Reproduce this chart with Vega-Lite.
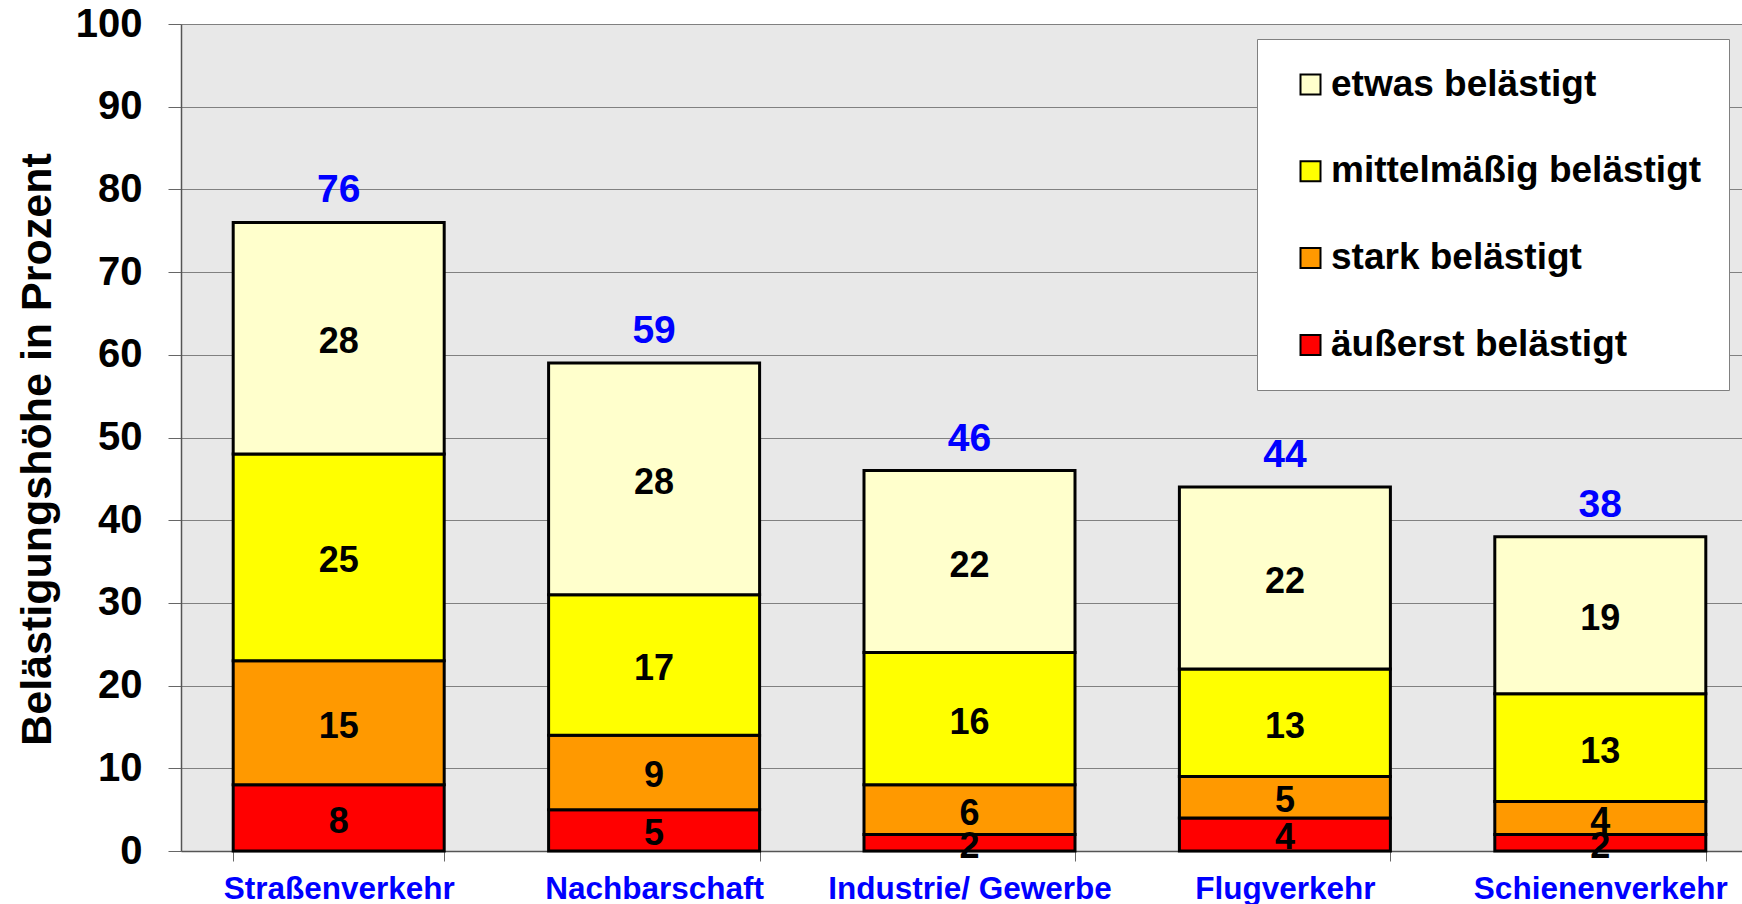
{
  "$schema": "https://vega.github.io/schema/vega-lite/v6.json",
  "autosize": {"type": "none"},
  "padding": {"left": 181, "top": 24, "right": 0, "bottom": 53},
  "width": 1561,
  "height": 827,
  "background": "white",
  "config": {
    "view": {"fill": "#e8e8e8", "stroke": null},
    "font": "Liberation Sans"
  },
  "datasets": {
    "segments": [
      {"Quelle": "Straßenverkehr", "Stufe": "äußerst belästigt", "Prozent": 8},
      {"Quelle": "Straßenverkehr", "Stufe": "stark belästigt", "Prozent": 15},
      {"Quelle": "Straßenverkehr", "Stufe": "mittelmäßig belästigt", "Prozent": 25},
      {"Quelle": "Straßenverkehr", "Stufe": "etwas belästigt", "Prozent": 28},
      {"Quelle": "Nachbarschaft", "Stufe": "äußerst belästigt", "Prozent": 5},
      {"Quelle": "Nachbarschaft", "Stufe": "stark belästigt", "Prozent": 9},
      {"Quelle": "Nachbarschaft", "Stufe": "mittelmäßig belästigt", "Prozent": 17},
      {"Quelle": "Nachbarschaft", "Stufe": "etwas belästigt", "Prozent": 28},
      {"Quelle": "Industrie/ Gewerbe", "Stufe": "äußerst belästigt", "Prozent": 2},
      {"Quelle": "Industrie/ Gewerbe", "Stufe": "stark belästigt", "Prozent": 6},
      {"Quelle": "Industrie/ Gewerbe", "Stufe": "mittelmäßig belästigt", "Prozent": 16},
      {"Quelle": "Industrie/ Gewerbe", "Stufe": "etwas belästigt", "Prozent": 22},
      {"Quelle": "Flugverkehr", "Stufe": "äußerst belästigt", "Prozent": 4},
      {"Quelle": "Flugverkehr", "Stufe": "stark belästigt", "Prozent": 5},
      {"Quelle": "Flugverkehr", "Stufe": "mittelmäßig belästigt", "Prozent": 13},
      {"Quelle": "Flugverkehr", "Stufe": "etwas belästigt", "Prozent": 22},
      {"Quelle": "Schienenverkehr", "Stufe": "äußerst belästigt", "Prozent": 2},
      {"Quelle": "Schienenverkehr", "Stufe": "stark belästigt", "Prozent": 4},
      {"Quelle": "Schienenverkehr", "Stufe": "mittelmäßig belästigt", "Prozent": 13},
      {"Quelle": "Schienenverkehr", "Stufe": "etwas belästigt", "Prozent": 19}
    ],
    "totals": [
      {"Quelle": "Straßenverkehr", "Gesamt": 76},
      {"Quelle": "Nachbarschaft", "Gesamt": 59},
      {"Quelle": "Industrie/ Gewerbe", "Gesamt": 46},
      {"Quelle": "Flugverkehr", "Gesamt": 44},
      {"Quelle": "Schienenverkehr", "Gesamt": 38}
    ]
  },
  "encoding": {
    "x": {
      "field": "Quelle",
      "type": "nominal",
      "sort": ["Straßenverkehr", "Nachbarschaft", "Industrie/ Gewerbe", "Flugverkehr", "Schienenverkehr"],
      "scale": {"range": [0, 1577], "paddingInner": 0.331, "paddingOuter": 0.1655},
      "axis": {
        "title": null,
        "labelAngle": 0,
        "labelFont": "Liberation Sans",
        "labelFontSize": 31.5,
        "labelFontWeight": "bold",
        "labelColor": "#0000FF",
        "labelBaseline": "top",
        "labelPadding": 12,
        "labelLimit": 0,
        "tickBand": "extent",
        "tickSize": 10,
        "tickColor": "#666666",
        "domainColor": "#555555",
        "domainWidth": 1.5,
        "grid": false
      }
    }
  },
  "layer": [
    {
      "data": {"name": "segments"},
      "mark": {"type": "bar", "stroke": "#000000", "strokeWidth": 3},
      "encoding": {
        "y": {
          "field": "Prozent",
          "type": "quantitative",
          "stack": "zero",
          "scale": {"domain": [0, 100], "nice": false},
          "axis": {
            "title": "Belästigungshöhe in Prozent",
            "titleFont": "Liberation Sans",
            "titleFontSize": 43,
            "titleFontWeight": "bold",
            "titleColor": "#000000",
            "titlePadding": 16,
            "titleY": 425,
            "values": [0, 10, 20, 30, 40, 50, 60, 70, 80, 90, 100],
            "labelFont": "Liberation Sans",
            "labelFontSize": 40,
            "labelFontWeight": "bold",
            "labelColor": "#000000",
            "labelPadding": 26,
            "tickSize": 13,
            "tickColor": "#666666",
            "domainColor": "#555555",
            "domainWidth": 1.5,
            "grid": true,
            "gridColor": "#808080",
            "gridWidth": 1
          }
        },
        "color": {
          "field": "Stufe",
          "type": "nominal",
          "scale": {
            "domain": ["etwas belästigt", "mittelmäßig belästigt", "stark belästigt", "äußerst belästigt"],
            "range": ["#FFFFCC", "#FFFF00", "#FF9900", "#FF0000"]
          },
          "legend": {
            "title": null,
            "orient": "none",
            "legendX": 1076,
            "legendY": 15,
            "fillColor": "#FFFFFF",
            "strokeColor": "#808080",
            "padding": 27,
            "symbolOffset": 8,
            "symbolType": "square",
            "symbolSize": 400,
            "symbolStrokeColor": "#000000",
            "symbolStrokeWidth": 2,
            "labelFont": "Liberation Sans",
            "labelFontSize": 37,
            "labelFontWeight": "bold",
            "labelColor": "#000000",
            "labelOffset": 2,
            "labelLimit": 0,
            "rowPadding": 48.8
          }
        },
        "order": {"field": "Stufe", "sort": "descending"}
      }
    },
    {
      "data": {"name": "segments"},
      "mark": {"type": "text", "font": "Liberation Sans", "fontSize": 36, "fontWeight": "bold", "color": "#000000", "baseline": "middle", "align": "center", "dy": 4},
      "encoding": {
        "y": {"field": "Prozent", "type": "quantitative", "stack": "zero", "bandPosition": 0.5},
        "text": {"field": "Prozent", "type": "quantitative"},
        "detail": {"field": "Stufe"},
        "order": {"field": "Stufe", "sort": "descending"}
      }
    },
    {
      "data": {"name": "totals"},
      "mark": {"type": "text", "font": "Liberation Sans", "fontSize": 39, "fontWeight": "bold", "color": "#0000FF", "baseline": "alphabetic", "align": "center", "dy": -20},
      "encoding": {
        "y": {"field": "Gesamt", "type": "quantitative"},
        "text": {"field": "Gesamt", "type": "quantitative"}
      }
    }
  ]
}
